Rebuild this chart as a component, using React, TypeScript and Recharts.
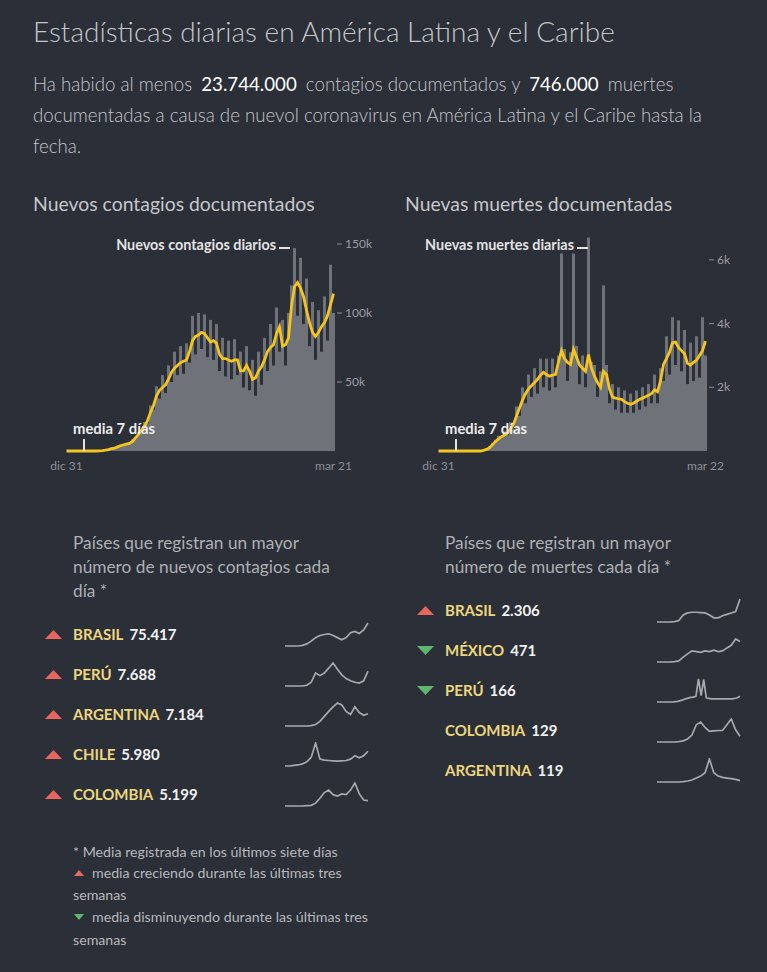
import React from "react";
import { ComposedChart, Bar, Line, LineChart, XAxis, YAxis } from "recharts";

// contagios diarios (miles), cada ~5 días desde dic 31 hasta mar 21
const casosDiarios = [
  0, 0, 0, 0, 0, 0, 0, 0, 0, 0, 0, 0.2, 0.4, 0.9, 1.2, 2.4,
  2.6, 3.5, 4.6, 4, 6, 5.2, 8.5, 9, 14, 13, 21, 20, 33, 30, 47, 38, 55, 42, 62, 50,
  72, 55, 76, 56, 78, 64, 98, 70, 100, 74, 99, 68, 95, 66, 92, 58, 82, 54, 80, 52,
  81, 55, 72, 46, 76, 44, 66, 40, 72, 48, 82, 58, 92, 62, 104, 72, 95, 62, 100, 120,
  147, 98, 140, 92, 125, 76, 108, 66, 102, 72, 112, 80, 135, 100,
];
const casosMedia = [
  0, 0, 0, 0, 0, 0, 0, 0, 0, 0, 0, 0.1, 0.3, 0.6, 1, 1.8,
  2, 3, 3.8, 4.5, 5, 5.5, 7, 9.5, 12, 15, 18, 22, 28, 33, 40, 44, 46, 48, 52, 57,
  60, 62, 64, 65, 66, 72, 80, 83, 84, 86, 85, 82, 79, 80, 78, 70, 67, 67, 66, 65,
  66, 66, 58, 58, 62, 58, 52, 53, 58, 61, 66, 72, 75, 77, 85, 90, 76, 77, 82, 105,
  119, 122, 118, 112, 102, 93, 86, 83, 86, 90, 93, 98, 106, 114,
];
// muertes diarias (miles), mismo periodo hasta mar 22
const muertesDiarias = [
  0, 0, 0, 0, 0, 0, 0, 0, 0, 0, 0, 0, 0, 0, 0,
  0.03, 0.06, 0.15, 0.25, 0.35, 0.48, 0.4, 0.62, 0.5, 0.9, 0.7, 1.4, 1.1, 2.0, 1.5,
  2.4, 1.7, 2.6, 1.8, 2.9, 2.0, 2.9, 1.9, 2.9, 2.0, 3.0, 6.2, 3.2, 2.2, 3.1, 6.2,
  3.3, 2.1, 3.0, 2.0, 6.7, 2.8, 2.7, 1.7, 2.5, 5.2, 2.7, 1.5, 2.1, 1.3, 2.0, 1.2,
  1.9, 1.2, 1.8, 1.2, 1.9, 1.3, 2.0, 1.4, 2.1, 1.5, 2.4, 1.5, 2.6, 2.2, 3.6, 2.4,
  4.2, 2.7, 4.1, 2.5, 3.8, 2.1, 3.4, 2.2, 3.6, 2.3, 4.2, 3.0,
];
const muertesMedia = [
  0, 0, 0, 0, 0, 0, 0, 0, 0, 0, 0, 0, 0, 0, 0,
  0.02, 0.05, 0.1, 0.2, 0.3, 0.38, 0.45, 0.5, 0.56, 0.7, 0.84, 1.1, 1.35, 1.6, 1.8,
  1.95, 2.05, 2.15, 2.25, 2.38, 2.47, 2.4, 2.35, 2.38, 2.4, 2.8, 3.15, 2.9, 2.78,
  2.72, 3.19, 2.95, 2.7, 2.6, 2.5, 3.03, 2.6, 2.35, 2.15, 2.0, 2.5, 2.4, 1.95, 1.69,
  1.66, 1.64, 1.62, 1.55, 1.5, 1.47, 1.5, 1.56, 1.62, 1.66, 1.7, 1.75, 1.8, 1.92,
  1.86, 2.2, 2.72, 2.9, 3.1, 3.4, 3.42, 3.25, 3.15, 3.05, 2.75, 2.7, 2.78, 2.85,
  3.0, 3.15, 3.45,
];

const fechasCasos = ["dic 31", "mar 21"];
const fechasMuertes = ["dic 31", "mar 22"];
const ticksCasos = [50, 100, 150];
const ticksMuertes = [2, 4, 6];

// mini gráficos por país (forma relativa)
const paisesCasos = [
  { pais: "BRASIL", valor: "75.417", tendencia: "up", serie: [0, 0, 0, 0, 2, 6, 14, 24, 30, 33, 35, 30, 24, 18, 24, 38, 42, 36, 46, 66] },
  { pais: "PERÚ", valor: "7.688", tendencia: "up", serie: [0, 0, 0, 0, 0, 2, 10, 35, 28, 35, 48, 62, 45, 30, 20, 14, 10, 8, 14, 40] },
  { pais: "ARGENTINA", valor: "7.184", tendencia: "up", serie: [0, 0, 0, 0, 0, 0, 1, 4, 12, 25, 38, 50, 60, 55, 38, 30, 50, 35, 28, 32] },
  { pais: "CHILE", valor: "5.980", tendencia: "up", serie: [0, 0, 2, 3, 6, 12, 25, 67, 20, 17, 16, 15, 14, 15, 16, 20, 30, 24, 30, 43] },
  { pais: "COLOMBIA", valor: "5.199", tendencia: "up", serie: [0, 0, 0, 0, 0, 1, 2, 8, 22, 38, 45, 32, 28, 34, 32, 45, 65, 35, 17, 15] },
];
const paisesMuertes = [
  { pais: "BRASIL", valor: "2.306", tendencia: "up", serie: [0, 0, 0, 0, 1, 4, 20, 26, 28, 28, 27, 26, 20, 12, 12, 18, 22, 26, 30, 66] },
  { pais: "MÉXICO", valor: "471", tendencia: "down", serie: [0, 0, 0, 0, 1, 3, 13, 22, 30, 28, 26, 30, 28, 32, 28, 30, 38, 45, 62, 55] },
  { pais: "PERÚ", valor: "166", tendencia: "down", serie: [0, 0, 0, 0, 0, 0, 0, 1, 2, 4, 6, 9, 11, 13, 14, 16, 65, 18, 64, 12, 10, 9, 9, 9, 9, 9, 9, 9, 9, 9, 10, 12, 16] },
  { pais: "COLOMBIA", valor: "129", tendencia: "", serie: [0, 0, 0, 0, 0, 1, 3, 8, 18, 45, 52, 38, 28, 29, 30, 30, 45, 60, 32, 15] },
  { pais: "ARGENTINA", valor: "119", tendencia: "", serie: [0, 0, 0, 0, 0, 0, 1, 3, 6, 12, 18, 28, 70, 28, 18, 14, 12, 10, 8, 4] },
];

const FUENTE = "Lato, 'Open Sans', sans-serif";
const FONDO = "#2b2f38";
const AMARILLO = "#f4c51f";
const GRIS_BARRA = "#6f7279";

function Txt({ x, y, size, color, weight = 400, children, anchor = "left", style = {} }: any) {
  const lh = Math.round(size * 1.3);
  const pos: any = anchor === "right" ? { right: 767 - x } : { left: x };
  return (
    <div
      style={{
        position: "absolute",
        top: y - lh / 2,
        ...pos,
        fontSize: size,
        lineHeight: lh + "px",
        color,
        fontWeight: weight,
        whiteSpace: "nowrap",
        ...style,
      }}
    >
      {children}
    </div>
  );
}

function Tri({ x, y, up, w = 17, h = 9 }: any) {
  const pts = up ? `${w / 2},0 ${w},${h} 0,${h}` : `0,0 ${w},0 ${w / 2},${h}`;
  return (
    <svg width={w} height={h} style={{ position: "absolute", left: x, top: y - h / 2 }}>
      <polygon points={pts} fill={up ? "#e8675f" : "#5db86d"} />
    </svg>
  );
}

const TickY = ({ x, y, payload }: any) => (
  <g>
    <line x1={x + 2} x2={x + 7} y1={y} y2={y} stroke="#8d8f93" strokeWidth={1} />
    <text x={x + 10} y={y} dy="0.35em" fill="#9c9ea2" fontSize={12} fontFamily={FUENTE}>
      {payload.value}k
    </text>
  </g>
);

function Grafico({ left, diarios, media, fechas, ticks, maxY, marginTop }: any) {
  const datos = diarios.map((v: number, i: number) => ({ i, diario: v, media: media[i] }));
  return (
    <div style={{ position: "absolute", left, top: 220 }}>
      <ComposedChart
        width={340}
        height={260}
        data={datos}
        margin={{ top: marginTop, right: 5, left: 25, bottom: 9 }}
        barCategoryGap={0}
        barGap={0}
      >
        <XAxis
          dataKey="i"
          height={20}
          interval={diarios.length - 2}
          tickLine={false}
          axisLine={false}
          tickMargin={4}
          tick={{ fill: "#8e9094", fontSize: 12, fontFamily: FUENTE }}
          tickFormatter={(v: number) => (v === 0 ? fechas[0] : fechas[1])}
        />
        <YAxis
          orientation="right"
          domain={[0, maxY]}
          ticks={ticks}
          width={40}
          tickLine={false}
          axisLine={false}
          tickSize={0}
          tickMargin={0}
          tick={<TickY />}
        />
        <Bar dataKey="diario" fill={GRIS_BARRA} isAnimationActive={false} />
        <Line
          dataKey="media"
          stroke={AMARILLO}
          strokeWidth={2.8}
          dot={false}
          type="linear"
          isAnimationActive={false}
        />
      </ComposedChart>
    </div>
  );
}

function Mini({ x, base, serie }: any) {
  const datos = serie.map((v: number, i: number) => ({ i, v }));
  return (
    <div style={{ position: "absolute", left: x, top: base - 24 }}>
      <LineChart width={85} height={25} data={datos} margin={{ top: 1, right: 1, bottom: 1, left: 1 }}>
        <XAxis dataKey="i" type="number" domain={[0, serie.length - 1]} hide />
        <YAxis domain={[0, "dataMax"]} hide />
        <Line dataKey="v" stroke="#a7a9ad" strokeWidth={1.7} dot={false} isAnimationActive={false} />
      </LineChart>
    </div>
  );
}

function Fila({ item, xTri, xTxt, y, xMini }: any) {
  return (
    <>
      {item.tendencia && <Tri x={xTri} y={y} up={item.tendencia === "up"} />}
      <Txt x={xTxt} y={y} size={15} color="#ecd67e" weight={700}>
        {item.pais}
        <span style={{ color: "#f2f2f2", marginLeft: 6 }}>{item.valor}</span>
      </Txt>
      <Mini x={xMini} base={y + 12} serie={item.serie} />
    </>
  );
}

export default function App() {
  const gris = "#c6c7c9";
  const nota = "#b7b9bc";
  return (
    <div
      style={{
        position: "absolute",
        left: 0,
        top: 0,
        width: 767,
        height: 972,
        background: FONDO,
        fontFamily: FUENTE,
        overflow: "hidden",
      }}
    >
      <Txt x={33} y={31} size={28} color={gris} weight={300}>
        Estadísticas diarias en América Latina y el Caribe
      </Txt>
      <Txt x={33} y={84} size={18.7} color={gris} weight={300}>
        Ha habido al menos <b style={{ color: "#fff", margin: "0 4px" }}>23.744.000</b> contagios documentados y{" "}
        <b style={{ color: "#fff", margin: "0 4px" }}>746.000</b> muertes
      </Txt>
      <Txt x={33} y={115} size={18.7} color={gris} weight={300}>
        documentadas a causa de nuevol coronavirus en América Latina y el Caribe hasta la
      </Txt>
      <Txt x={33} y={146} size={18.7} color={gris} weight={300}>
        fecha.
      </Txt>

      <Txt x={33} y={203} size={19.4} color={gris}>
        Nuevos contagios documentados
      </Txt>
      <Txt x={405} y={203} size={19.4} color={gris}>
        Nuevas muertes documentadas
      </Txt>

      <Grafico left={40} diarios={casosDiarios} media={casosMedia} fechas={fechasCasos} ticks={ticksCasos} maxY={150} marginTop={24} />
      <Grafico left={412} diarios={muertesDiarias} media={muertesMedia} fechas={fechasMuertes} ticks={ticksMuertes} maxY={7} marginTop={8} />

      {/* anotaciones */}
      <Txt x={276} y={244} size={14.4} color="#e2e2e2" weight={700} anchor="right">
        Nuevos contagios diarios
      </Txt>
      <div style={{ position: "absolute", left: 279, top: 247, width: 11, height: 2, background: "#e2e2e2" }} />
      <Txt x={73} y={428} size={14.8} color="#ececec" weight={700}>
        media 7 días
      </Txt>
      <div style={{ position: "absolute", left: 83, top: 439, width: 1.5, height: 12, background: "#e2e2e2" }} />

      <Txt x={574} y={244} size={14.4} color="#e2e2e2" weight={700} anchor="right">
        Nuevas muertes diarias
      </Txt>
      <div style={{ position: "absolute", left: 577, top: 247, width: 11, height: 2, background: "#e2e2e2" }} />
      <Txt x={445} y={428} size={14.8} color="#ececec" weight={700}>
        media 7 días
      </Txt>
      <div style={{ position: "absolute", left: 455, top: 439, width: 1.5, height: 12, background: "#e2e2e2" }} />

      {/* listas de países */}
      <Txt x={73} y={543} size={17.3} color="#aeb0b3">Países que registran un mayor</Txt>
      <Txt x={73} y={567} size={17.3} color="#aeb0b3">número de nuevos contagios cada</Txt>
      <Txt x={73} y={591} size={17.3} color="#aeb0b3">día *</Txt>
      <Txt x={445} y={543} size={17.3} color="#aeb0b3">Países que registran un mayor</Txt>
      <Txt x={445} y={567} size={17.3} color="#aeb0b3">número de muertes cada día *</Txt>

      {paisesCasos.map((p, k) => (
        <Fila key={p.pais} item={p} xTri={45} xTxt={73} y={634 + k * 40} xMini={284} />
      ))}
      {paisesMuertes.map((p, k) => (
        <Fila key={p.pais} item={p} xTri={417} xTxt={445} y={610 + k * 40} xMini={656} />
      ))}

      {/* notas */}
      <Txt x={73} y={852} size={14.2} color={nota}>* Media registrada en los últimos siete días</Txt>
      <Tri x={74} y={873} up w={10} h={6} />
      <Txt x={92} y={873} size={14.2} color={nota}>media creciendo durante las últimas tres</Txt>
      <Txt x={73} y={895} size={14.2} color={nota}>semanas</Txt>
      <Tri x={74} y={917} up={false} w={10} h={6} />
      <Txt x={92} y={917} size={14.2} color={nota}>media disminuyendo durante las últimas tres</Txt>
      <Txt x={73} y={940} size={14.2} color={nota}>semanas</Txt>
    </div>
  );
}
